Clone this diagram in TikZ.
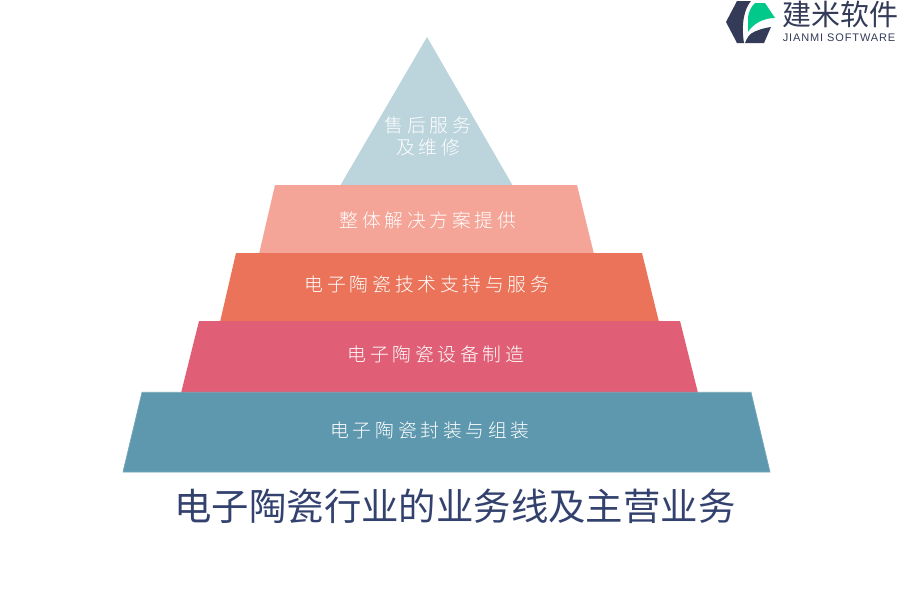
\documentclass[tikz,border=0pt]{standalone}
\usepackage{fontspec}
\setmainfont{Noto Sans CJK SC}
\newfontfamily\lblfont[LetterSpace=20]{Noto Sans CJK SC Light}
\newfontfamily\ttlfont{Noto Sans CJK SC}
\newfontfamily\logofont{Noto Sans CJK SC}
\newfontfamily\logolat[LetterSpace=8]{Liberation Sans}
\definecolor{cTri}{HTML}{BCD4DC}
\definecolor{cSal}{HTML}{F4A597}
\definecolor{cOra}{HTML}{EA7359}
\definecolor{cPin}{HTML}{E05F76}
\definecolor{cTea}{HTML}{5E98AE}
\definecolor{cNav}{HTML}{33416F}
\definecolor{cLog}{HTML}{333B58}
\definecolor{cGre}{HTML}{00C98A}
\tikzset{
  lbl/.style={text=white,font=\lblfont\fontsize{18.8pt}{22pt}\selectfont,inner sep=0pt,align=center}
}
\begin{document}
\begin{tikzpicture}[x=1pt,y=-1pt]
\useasboundingbox (0,0) rectangle (900,600);
\fill[cTri] (427,37) -- (513,186) -- (340,186) -- cycle;
\fill[cSal] (275,185) -- (577,185) -- (594,254) -- (259,254) -- cycle;
\fill[cOra] (236,253) -- (642,253) -- (659,322) -- (220,322) -- cycle;
\fill[cPin] (199,321) -- (680,321) -- (698,393) -- (181,393) -- cycle;
\filldraw[fill=cTea,draw=cTea!85!white,line width=0.7pt] (142,392.3) -- (751,392.3) -- (770,472) -- (123,472) -- cycle;
\node[lbl] (t1) at (428,136) {售后服务\\[0pt]及维修};
\node[lbl] (t2) at (428,220.5) {整体解决方案提供};
\node[lbl] (t3) at (427,284.5) {电子陶瓷技术支持与服务};
\node[lbl] (t4) at (436,354.5) {电子陶瓷设备制造};
\node[lbl] (t5) at (430,430.5) {电子陶瓷封装与组装};
\node[text=cNav,font=\ttlfont\fontsize{37.4pt}{40pt}\selectfont,inner sep=0pt] (title) at (455,506) {电子陶瓷行业的业务线及主营业务};
% logo
\fill[cLog] (737,1) -- (751,1) .. controls (744,9) and (741,25) .. (744,43) -- (737,43) -- (726,22) -- cycle;
\fill[cLog] (745,43) .. controls (747,38) and (749,35) .. (752,33) .. controls (757,30) and (764,28) .. (771,27) -- (764,43) -- cycle;
\fill[cGre] (748,17) .. controls (749,11) and (751,7) .. (755,3) -- (765,3) -- (775,18) .. controls (763,18) and (753,24) .. (748,32) -- cycle;
\node[text=cLog,font=\logofont\fontsize{29pt}{30pt}\selectfont,inner sep=0pt] (logo) at (840,14) {建米软件};
\node[text=cLog,font=\logolat\fontsize{11pt}{12pt}\selectfont,inner sep=0pt] (logosub) at (839,38) {JIANMI SOFTWARE};
\end{tikzpicture}
\end{document}
